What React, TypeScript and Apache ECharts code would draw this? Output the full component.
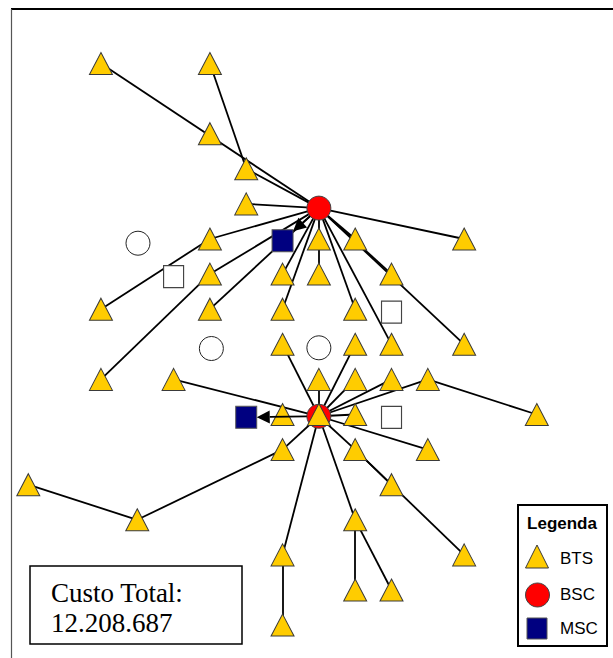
import React, { useEffect, useRef } from "react";
import * as echarts from "echarts";

// ---- data (grid units: column, row) ----
const btsNodes: [string, number, number][] = [
  ["T1", 2, 0], ["T2", 5, 0], ["T3", 5, 2], ["T4", 6, 3], ["T5", 6, 4],
  ["T6", 5, 5], ["T7", 8, 5], ["T8", 9, 5], ["T9", 12, 5],
  ["T10", 5, 6], ["T11", 7, 6], ["T12", 8, 6], ["T13", 10, 6],
  ["T14", 2, 7], ["T15", 5, 7], ["T16", 7, 7], ["T17", 9, 7],
  ["T18", 7, 8], ["T19", 9, 8], ["T20", 10, 8], ["T21", 12, 8],
  ["T22", 2, 9], ["T23", 4, 9], ["T24", 8, 9], ["T25", 9, 9], ["T26", 10, 9], ["T27", 11, 9],
  ["T28", 7, 10], ["T29", 8, 10], ["T30", 9, 10], ["T31", 14, 10],
  ["T32", 7, 11], ["T33", 9, 11], ["T34", 11, 11],
  ["T35", 0, 12], ["T36", 10, 12],
  ["T37", 3, 13], ["T38", 9, 13],
  ["T39", 7, 14], ["T40", 12, 14],
  ["T41", 9, 15], ["T42", 10, 15],
  ["T43", 7, 16],
];
const bscNodes: [string, number, number][] = [["B1", 8, 4.12], ["B2", 8, 10.05]];
const mscNodes: [string, number, number][] = [["M1", 7, 5.05], ["M2", 6, 10.08]];
const candidateBsc: [string, number, number][] = [["C1", 3.02, 5.12], ["C2", 5.04, 8.12], ["C3", 8, 8.1]];
const candidateMsc: [string, number, number][] = [["S1", 4, 6.07], ["S2", 10, 7.08], ["S3", 10, 10.08]];

const links: [string, string][] = [
  ["B1", "T1"], ["T2", "T4"], ["B1", "T4"], ["B1", "T5"], ["B1", "T6"], ["T14", "T6"],
  ["B1", "T10"], ["T22", "T10"], ["B1", "T15"], ["B1", "T7"], ["T7", "T12"],
  ["B1", "T8"], ["B1", "T13"], ["B1", "T21"], ["B1", "T9"], ["B1", "T11"],
  ["B1", "T16"], ["B1", "T17"], ["B1", "T20"],
  ["B2", "T18"], ["B2", "T19"], ["B2", "T24"], ["B2", "T25"], ["B2", "T26"], ["B2", "T27"],
  ["T27", "T31"], ["B2", "T23"], ["B2", "T30"], ["B2", "T32"], ["T32", "T37"], ["T37", "T35"],
  ["B2", "T39"], ["T39", "T43"], ["B2", "T38"], ["T38", "T41"], ["T38", "T42"],
  ["B2", "T33"], ["T33", "T36"], ["T33", "T40"], ["B2", "T34"],
];
const mscLinks: [string, string][] = [["B1", "M1"], ["B2", "M2"]];

const costLabel = "Custo Total:";
const costValue = "12.208.687";
const legendTitle = "Legenda";
const legendLabels = ["BTS", "BSC", "MSC"];

const BTS_COLOR = "#FFCC00";
const BSC_COLOR = "#FF0000";
const MSC_COLOR = "#000080";

export default function App() {
  const ref = useRef<HTMLDivElement>(null);
  useEffect(() => {
    document.body.style.margin = "0";
    const chart = echarts.init(ref.current!, undefined, { renderer: "svg" });
    const outline = "#3a3a3a";
    const data: any[] = [];
    candidateBsc.forEach(([n, x, y]) =>
      data.push({ name: n, value: [x, y], symbol: "circle", symbolSize: 24,
        itemStyle: { color: "#fff", borderColor: "#222", borderWidth: 1 } }));
    candidateMsc.forEach(([n, x, y]) =>
      data.push({ name: n, value: [x, y], symbol: "rect", symbolSize: [20, 22],
        itemStyle: { color: "#fff", borderColor: "#444", borderWidth: 1.2 } }));
    bscNodes.forEach(([n, x, y]) =>
      data.push({ name: n, value: [x, y], symbol: "circle", symbolSize: 24,
        itemStyle: { color: BSC_COLOR, borderColor: "#444", borderWidth: 1 } }));
    mscNodes.forEach(([n, x, y]) =>
      data.push({ name: n, value: [x, y], symbol: "rect", symbolSize: [21, 22],
        itemStyle: { color: MSC_COLOR, borderColor: "#555", borderWidth: 1 } }));
    btsNodes.forEach(([n, x, y]) =>
      data.push({ name: n, value: [x, y], symbol: "triangle", symbolSize: [23, 22],
        itemStyle: { color: BTS_COLOR, borderColor: outline, borderWidth: 1 } }));

    const linkData: any[] = links.map(([s, t]) => ({ source: s, target: t }));

    const pos: Record<string, [number, number]> = {};
    [...bscNodes, ...mscNodes].forEach(([n, x, y]) => (pos[n] = [x, y]));
    const arrowData = mscLinks.map(([s, t]) => [...pos[s], ...pos[t]]);

    const MSC_HW = 10.5, MSC_HH = 11, BSC_R = 12, AL = 13, AW = 6.5;

    chart.setOption({
      animation: false,
      backgroundColor: "#fff",
      grid: { left: 28.3, top: 63.5, width: 508.5, height: 561.6, containLabel: false },
      xAxis: { type: "value", min: 0, max: 14, show: false },
      yAxis: { type: "value", min: 0, max: 16, inverse: true, show: false },
      series: [
        {
          type: "graph",
          coordinateSystem: "cartesian2d",
          silent: true,
          data,
          links: linkData,
          label: { show: false },
          lineStyle: { color: "#000", width: 1.8, opacity: 1, curveness: 0 },
          emphasis: { disabled: true },
          z: 2,
        },
        {
          type: "custom",
          coordinateSystem: "cartesian2d",
          silent: true,
          z: 3,
          data: arrowData,
          renderItem: (params: any, api: any) => {
            const p1 = api.coord([api.value(0), api.value(1)]);
            const p2 = api.coord([api.value(2), api.value(3)]);
            const dx = p2[0] - p1[0], dy = p2[1] - p1[1];
            const len = Math.hypot(dx, dy);
            const ux = dx / len, uy = dy / len;
            const t = Math.min(
              Math.abs(ux) > 1e-6 ? MSC_HW / Math.abs(ux) : Infinity,
              Math.abs(uy) > 1e-6 ? MSC_HH / Math.abs(uy) : Infinity
            );
            const tip = [p2[0] - ux * t, p2[1] - uy * t];
            const base = [tip[0] - ux * AL, tip[1] - uy * AL];
            const nx = -uy, ny = ux;
            const start = [p1[0] + ux * BSC_R, p1[1] + uy * BSC_R];
            return {
              type: "group",
              children: [
                { type: "line", shape: { x1: start[0], y1: start[1], x2: base[0], y2: base[1] },
                  style: { stroke: "#000", lineWidth: 1.8 } },
                { type: "polygon", shape: { points: [tip, [base[0] + nx * AW, base[1] + ny * AW], [base[0] - nx * AW, base[1] - ny * AW]] },
                  style: { fill: "#000" } },
              ],
            };
          },
        },
      ],
      graphic: [
        { type: "line", shape: { x1: 11, y1: 9, x2: 613, y2: 9 }, style: { stroke: "#000", lineWidth: 2 } },
        { type: "line", shape: { x1: 11.5, y1: 9, x2: 11.5, y2: 658 }, style: { stroke: "#555", lineWidth: 1.2 } },
        { type: "rect", shape: { x: 30, y: 566, width: 212, height: 78 },
          style: { fill: "#fff", stroke: "#000", lineWidth: 1.5 } },
        { type: "text", x: 51, y: 593, style: { text: costLabel, font: '27px "Liberation Serif"', fill: "#000", verticalAlign: "middle" } },
        { type: "text", x: 51, y: 623, style: { text: costValue, font: '27px "Liberation Serif"', fill: "#000", verticalAlign: "middle" } },
        { type: "rect", shape: { x: 518, y: 505, width: 89, height: 141 },
          style: { fill: "#fff", stroke: "#000", lineWidth: 2 } },
        { type: "text", x: 562, y: 523, style: { text: legendTitle, font: 'bold 17px "Liberation Sans"', fill: "#000", align: "center", verticalAlign: "middle" } },
        { type: "polygon", shape: { points: [[537, 545], [548.5, 568], [525.5, 568]] },
          style: { fill: BTS_COLOR, stroke: outline, lineWidth: 1 } },
        { type: "circle", shape: { cx: 537.5, cy: 595, r: 12 }, style: { fill: BSC_COLOR, stroke: "#444", lineWidth: 1 } },
        { type: "rect", shape: { x: 527, y: 618, width: 20, height: 21 }, style: { fill: MSC_COLOR, stroke: "#555", lineWidth: 1 } },
        ...legendLabels.map((t, i) => ({
          type: "text", x: 560, y: [558, 594, 628][i],
          style: { text: t, font: '17px "Liberation Sans"', fill: "#000", verticalAlign: "middle" },
        })),
      ],
    });
    return () => chart.dispose();
  }, []);
  return <div ref={ref} style={{ width: 613, height: 658 }} />;
}
